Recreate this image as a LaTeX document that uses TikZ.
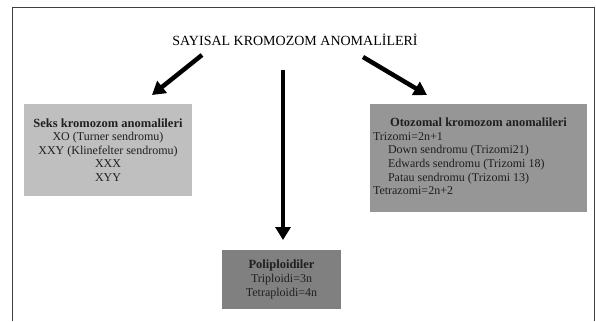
\documentclass[tikz,border=0pt]{standalone}
\usepackage{fontspec}
\setmainfont{Liberation Serif}
\usetikzlibrary{arrows.meta,positioning}
\definecolor{boxlight}{gray}{0.75}
\definecolor{boxmid}{gray}{0.59}
\definecolor{boxdark}{gray}{0.50}
\definecolor{framegray}{gray}{0.25}
\newcommand{\boxhead}[1]{{\fontsize{12.5}{13.5}\selectfont\textbf{#1}}}
\begin{document}
\begin{tikzpicture}[x=1pt,y=-1pt,
  font=\fontsize{12}{13.6}\selectfont,
  box/.style={inner sep=2pt,align=center,text=black!88},
  lab/.style={font=\fontsize{14}{16}\selectfont},
  arr/.style={-{Triangle[length=13pt,width=15pt]},line width=4.5pt}]
  \useasboundingbox (0,0) rectangle (596,321);
  % outer frame, open at the bottom
  \draw[framegray,line width=1.5pt] (12.5,321) |- (594.5,7.5) -- (594.5,321);
  \node[lab] (title) at (295,40) {SAYISAL KROMOZOM ANOMALİLERİ};
  \node[box,fill=boxlight,minimum width=168pt,minimum height=92pt] (seks) at (108,150)
    {\boxhead{Seks kromozom anomalileri}\\XO (Turner sendromu)\\XXY (Klinefelter sendromu)\\XXX\\XYY};
  \node[box,fill=boxmid,minimum width=217pt,minimum height=108pt] (otozomal) at (478.5,158)
    {\begin{tabular}{@{}p{211pt}@{}}
      \centering\boxhead{Otozomal kromozom anomalileri}\tabularnewline
      Trizomi=2n+1\tabularnewline
      \hspace*{15pt}Down sendromu (Trizomi21)\tabularnewline
      \hspace*{15pt}Edwards sendromu (Trizomi 18)\tabularnewline
      \hspace*{15pt}Patau sendromu (Trizomi 13)\tabularnewline
      Tetrazomi=2n+2
    \end{tabular}};
  \node[box,fill=boxdark,minimum width=119pt,minimum height=59pt] (poli) at (281.5,279.5)
    {\boxhead{Poliploidiler}\\Triploidi=3n\\Tetraploidi=4n};
  % arrow ends
  \coordinate (sa) at (202,55);
  \coordinate (sb) at (152,95);
  \coordinate (oa) at (363,57);
  \coordinate (ob) at (427,95);
  \coordinate (pa) at (283,70);
  \coordinate (pb) at (283,240);
  \foreach \a/\b in {sa/sb,oa/ob,pa/pb}
     \draw[arr] (\a) -- (\b);
\end{tikzpicture}
\end{document}
